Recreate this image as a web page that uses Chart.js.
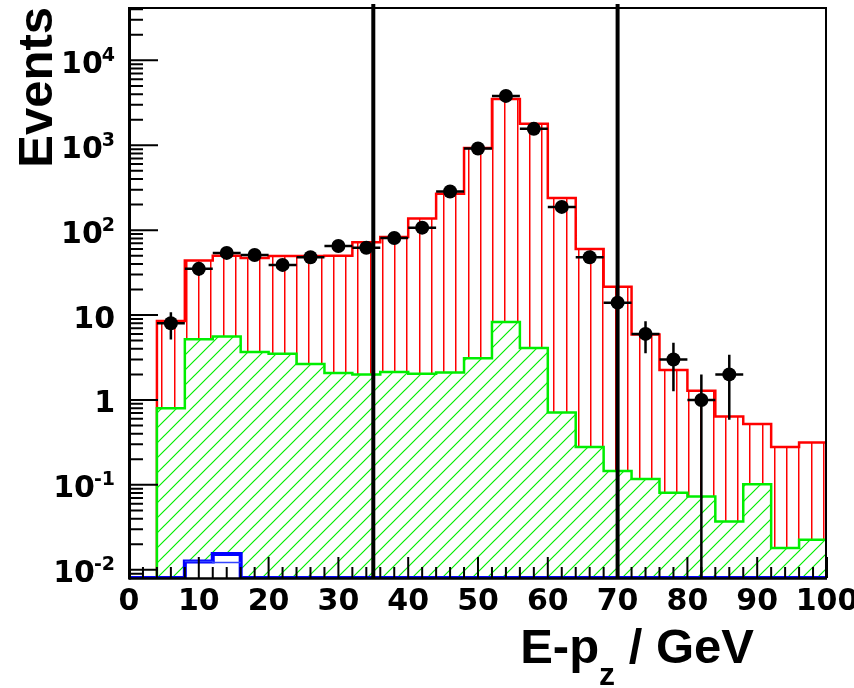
<!DOCTYPE html>
<html>
<head>
<meta charset="utf-8">
<script src="https://cdn.jsdelivr.net/npm/chart.js@4/dist/chart.umd.min.js"></script>
<style>
body {
  margin: 0;
  background: #fff;
}
</style>
</head>
<body>

<canvas id="chart" width="854" height="688"></canvas>

<script>

// ==========================
// data (bins 4 GeV wide)
// ==========================

const binWidth = 4;
const binLow = [0, 4, 8, 12, 16, 20, 24, 28, 32, 36, 40, 44, 48, 52, 56, 60, 64, 68, 72, 76, 80, 84, 88, 92, 96];

// total MC (red)
const mcTotal = [null, 8.5, 44, 50, 47, 49.5, 49.5, 50, 72, 83, 137, 268, 931, 3515, 1786, 240, 60, 21.6, 5.9, 2.25, 1.28, 0.64, 0.52, 0.28, 0.315];

// background (green)
const mcBkg = [null, 0.80, 5.2, 5.6, 3.67, 3.5, 2.65, 2.08, 1.99, 2.13, 2.04, 2.1, 3.1, 8.3, 4.1, 0.71, 0.28, 0.146, 0.117, 0.081, 0.073, 0.037, 0.102, 0.018, 0.0225];

// small component (blue), 0 = empty bin
const mcBlue = [0, 0, 0.0125, 0.0153, 0, 0, 0, 0, 0, 0, 0, 0, 0, 0, 0, 0, 0, 0, 0, 0, 0, 0, 0, 0, 0];
const mcBlue2 = [null, null, 0.0125, 0.0122, null, null, null, null, null, null, null, null, null, null, null, null, null, null, null, null, null, null, null, null, null];

// data points
const dataX = [6, 10, 14, 18, 22, 26, 30, 34, 38, 42, 46, 50, 54, 58, 62, 66, 70, 74, 78, 82, 86];
const dataY = [8, 35, 54, 51, 39, 48, 65, 62, 81, 107, 285, 914, 3811, 1560, 188, 48, 14, 6, 3, 1, 2];

// cut lines
const cutX = [35, 70];

// axes
const X_MIN = 0, X_MAX = 100;
const Y_MIN = 0.008, Y_MAX = 42500;
const xMajor = [0, 10, 20, 30, 40, 50, 60, 70, 80, 90, 100];
const xLabels = ["0", "10", "20", "30", "40", "50", "60", "70", "80", "90", "100"];
const yMajor = [0.01, 0.1, 1, 10, 100, 1000, 10000];
const yLabelBase = ["10", "10", "1", "10", "10", "10", "10"];
const yLabelExp = ["-2", "-1", "", "", "2", "3", "4"];


// ==========================
// helpers
// ==========================

function histPoints(values, zeroAtMin) {

  const pts = [];
  let last = null;

  values.forEach((v, i) => {
    if (v == null && !zeroAtMin) return;
    const y = v > 0 ? v : Y_MIN;
    if (pts.length === 0) pts.push({ x: binLow[i], y: Y_MIN });
    pts.push({ x: binLow[i], y: y });
    last = { x: binLow[i] + binWidth, y: y };
  });

  pts.push(last);
  pts.push({ x: last.x, y: Y_MIN });

  return pts;

}

function partPoints(values) {

  const pts = [];
  values.forEach((v, i) => {
    if (v == null) return;
    pts.push({ x: binLow[i], y: v });
    pts.push({ x: binLow[i] + binWidth, y: v });
  });
  return pts;

}

function makePattern(w, h, draw) {

  const c = document.createElement("canvas");
  c.width = w;
  c.height = h;
  draw(c.getContext("2d"));
  return c.getContext("2d").createPattern(c, "repeat");

}

const ctx0 = document.getElementById("chart").getContext("2d");

const redHatch = makePattern(49, 8, g => {
  g.fillStyle = "#ff0000";
  [2, 14, 27, 39].forEach(x => g.fillRect(x, 0, 1.5, 8));
});

const greenHatch = makePattern(15, 15, g => {
  g.fillStyle = "#ffffff";
  g.fillRect(0, 0, 15, 15);
  g.strokeStyle = "#00ee00";
  g.lineWidth = 1.2;
  g.beginPath();
  g.moveTo(-2, 17); g.lineTo(17, -2);
  g.moveTo(-2, 2); g.lineTo(2, -2);
  g.moveTo(13, 17); g.lineTo(17, 13);
  g.stroke();
});


// ==========================
// axes, error bars, cut lines
// ==========================

const rootAxes = {

  id: "rootAxes",

  afterDatasetsDraw(chart) {

    const ctx = chart.ctx;
    const xs = chart.scales.x;
    const ys = chart.scales.y;
    const a = chart.chartArea;

    ctx.save();

    // error bars
    ctx.strokeStyle = "#000";
    ctx.lineWidth = 2.5;

    dataX.forEach((x, i) => {
      const v = dataY[i];
      const e = Math.sqrt(v);
      const px = xs.getPixelForValue(x);
      const py = ys.getPixelForValue(v);
      ctx.beginPath();
      ctx.moveTo(xs.getPixelForValue(x - binWidth / 2), py);
      ctx.lineTo(xs.getPixelForValue(x + binWidth / 2), py);
      ctx.moveTo(px, ys.getPixelForValue(v + e));
      ctx.lineTo(px, v - e > Y_MIN ? ys.getPixelForValue(v - e) : a.bottom);
      ctx.stroke();
    });

    // cut lines
    ctx.lineWidth = 4;
    cutX.forEach(x => {
      const px = xs.getPixelForValue(x);
      ctx.beginPath();
      ctx.moveTo(px, a.top - 3);
      ctx.lineTo(px, a.bottom);
      ctx.stroke();
    });

    // frame
    ctx.lineWidth = 2;
    ctx.beginPath();
    ctx.moveTo(a.left, a.top + 1);
    ctx.lineTo(a.right - 1, a.top + 1);
    ctx.lineTo(a.right - 1, a.bottom);
    ctx.stroke();

    ctx.lineWidth = 2.5;
    ctx.beginPath();
    ctx.moveTo(a.left, a.bottom + 0.5);
    ctx.lineTo(a.right, a.bottom + 0.5);
    ctx.stroke();

    ctx.lineWidth = 3;
    ctx.beginPath();
    ctx.moveTo(a.left + 0.5, a.top);
    ctx.lineTo(a.left + 0.5, a.bottom + 1.5);
    ctx.stroke();

    // y ticks
    ctx.lineWidth = 2;
    ctx.beginPath();
    yMajor.forEach(v => {
      const py = ys.getPixelForValue(v);
      ctx.moveTo(a.left, py);
      ctx.lineTo(a.left + 29, py);
      for (let k = 2; k <= 9; k++) {
        const m = v * k;
        if (m > Y_MAX) break;
        const pm = ys.getPixelForValue(m);
        ctx.moveTo(a.left, pm);
        ctx.lineTo(a.left + 14, pm);
      }
    });
    const p9 = ys.getPixelForValue(0.009);
    ctx.moveTo(a.left, p9);
    ctx.lineTo(a.left + 14, p9);
    ctx.stroke();

    // x ticks
    ctx.beginPath();
    for (let x = X_MIN; x <= X_MAX; x += 2) {
      const px = xs.getPixelForValue(x);
      const len = xMajor.includes(x) ? 21 : 11;
      ctx.moveTo(px, a.bottom);
      ctx.lineTo(px, a.bottom - len);
    }
    ctx.stroke();

    // y labels
    ctx.fillStyle = "#000";
    ctx.textBaseline = "alphabetic";
    yMajor.forEach((v, i) => {
      const py = ys.getPixelForValue(v);
      const right = 115;
      ctx.font = "bold 19px 'DejaVu Sans'";
      const ew = yLabelExp[i] ? ctx.measureText(yLabelExp[i]).width : 0;
      ctx.font = "bold 30px 'DejaVu Sans'";
      ctx.textAlign = "right";
      const baseRight = yLabelExp[i] ? right - ew + 1 : right;
      ctx.fillText(yLabelBase[i], baseRight, py + 12.5);
      if (yLabelExp[i]) {
        ctx.font = "bold 19px 'DejaVu Sans'";
        ctx.textAlign = "left";
        ctx.fillText(yLabelExp[i], baseRight - 1, py + 0.5);
      }
    });

    // x labels
    ctx.font = "bold 30px 'DejaVu Sans'";
    ctx.textAlign = "center";
    xMajor.forEach((x, i) => {
      ctx.fillText(xLabels[i], xs.getPixelForValue(x), 610);
    });

    // x title
    const mainFont = "bold 49px 'Liberation Sans', Arial, sans-serif";
    const subFont = "bold 32px 'Liberation Sans', Arial, sans-serif";
    ctx.font = mainFont;
    const w1 = ctx.measureText("E-p").width;
    const w3 = ctx.measureText(" / GeV").width;
    ctx.font = subFont;
    const w2 = ctx.measureText("z").width;
    let tx = 754 - (w1 + w2 + w3);
    ctx.textAlign = "left";
    ctx.font = mainFont;
    ctx.fillText("E-p", tx, 663);
    ctx.font = subFont;
    ctx.fillText("z", tx + w1, 685);
    ctx.font = mainFont;
    ctx.fillText(" / GeV", tx + w1 + w2, 663);

    // y title
    ctx.translate(52, 7);
    ctx.rotate(-Math.PI / 2);
    ctx.textAlign = "right";
    ctx.fillText("Events", 0, 0);

    ctx.restore();

  }

};


// ==========================
// chart
// ==========================

new Chart(ctx0, {

  type: "line",

  data: {
    datasets: [
      {
        label: "data",
        data: dataX.map((x, i) => ({ x: x, y: dataY[i] })),
        showLine: false,
        pointRadius: 7,
        pointBackgroundColor: "#000",
        pointBorderColor: "#000",
        pointBorderWidth: 0,
        order: 0
      },
      {
        label: "blue2",
        data: partPoints(mcBlue2),
        borderColor: "#3344ff",
        borderWidth: 1.5,
        pointRadius: 0,
        fill: false,
        order: 1
      },
      {
        label: "blue",
        data: histPoints(mcBlue, true),
        stepped: "before",
        borderColor: "#0000ff",
        borderWidth: 4,
        backgroundColor: "#ffffff",
        pointRadius: 0,
        fill: "start",
        order: 2
      },
      {
        label: "bkg",
        data: histPoints(mcBkg, false),
        stepped: "before",
        borderColor: "#00ee00",
        borderWidth: 2.5,
        backgroundColor: greenHatch,
        pointRadius: 0,
        fill: "start",
        order: 3
      },
      {
        label: "total",
        data: histPoints(mcTotal, false),
        stepped: "before",
        borderColor: "#ff0000",
        borderWidth: 2.5,
        backgroundColor: redHatch,
        pointRadius: 0,
        fill: "start",
        order: 4
      }
    ]
  },

  options: {
    responsive: false,
    animation: false,
    devicePixelRatio: 1,
    events: [],
    layout: {
      padding: { left: 129, right: 27, top: 7, bottom: 110 }
    },
    plugins: {
      legend: { display: false },
      tooltip: { enabled: false }
    },
    scales: {
      x: { type: "linear", min: X_MIN, max: X_MAX, display: false },
      y: { type: "logarithmic", min: Y_MIN, max: Y_MAX, display: false }
    }
  },

  plugins: [rootAxes]

});

</script>

</body>
</html>
